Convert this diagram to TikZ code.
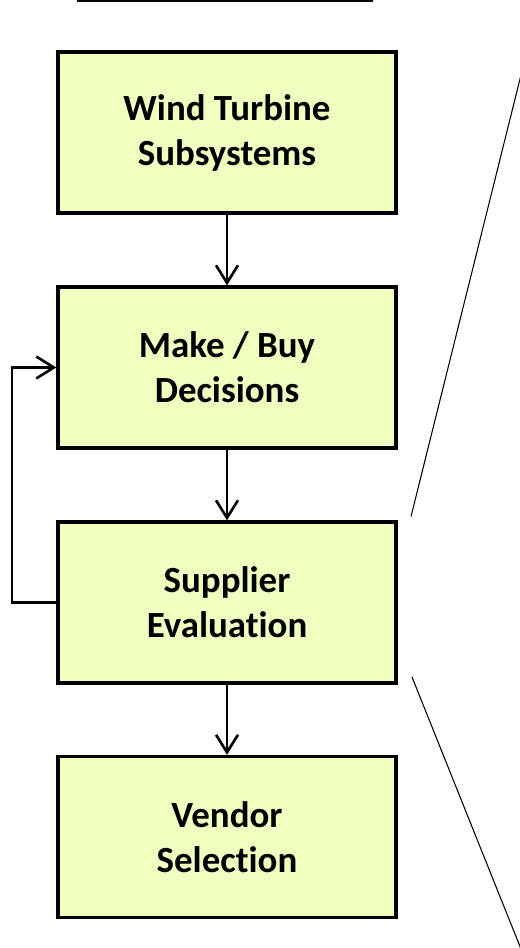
\documentclass[tikz,border=0pt]{standalone}
\usepackage{xcolor}
\usepackage{fontspec}
\usepackage{tikz}
\usetikzlibrary{arrows.meta}
\setmainfont[Ligatures=NoCommon]{Carlito}
\definecolor{boxfill}{RGB}{238,255,192}
\pgfdeclarelayer{nodelayer}
\pgfdeclarelayer{edgelayer}
\pgfsetlayers{edgelayer,nodelayer,main}
\tikzstyle{stage}=[fill=boxfill, draw=black, shape=rectangle, line width=1.9pt, minimum width=6.76cm, minimum height=3.22cm, align=center, font=\bfseries\fontsize{21}{25.6}\selectfont]
\tikzstyle{none}=[fill=none, draw=none, shape=circle, scale=0]
\tikzstyle{flow edge}=[draw=black, line width=1.5pt, -{Straight Barb[length=10pt,width=12.5pt,line width=1.5pt]}]
\tikzstyle{zoom edge}=[draw=black, line width=0.6pt]

\begin{document}
\begin{tikzpicture}
	\useasboundingbox (0, 0) rectangle (10.4, -18.96);
	\begin{pgfonlayer}{nodelayer}
		\node [style=stage] (0) at (4.54, -2.65) {Wind Turbine\\Subsystems};
		\node [style=stage] (1) at (4.54, -7.35) {Make / Buy\\Decisions};
		\node [style=stage] (2) at (4.54, -12.05) {Supplier\\Evaluation};
		\node [style=stage] (3) at (4.54, -16.74) {Vendor\\Selection};
		\node [style=none] (4) at (0.24, -7.35) {};
		\node [style=none] (5) at (0.24, -12.05) {};
		\coordinate (6) at (8.22, -10.33);
		\coordinate (7) at (10.45, -1.38);
		\coordinate (8) at (8.24, -13.54);
		\coordinate (9) at (10.42, -18.98);
	\end{pgfonlayer}
	\begin{pgfonlayer}{edgelayer}
		% title rule
		\draw [line width=1.14pt] (1.54, -0.02) -- (7.46, -0.02);
		\draw [style=flow edge] (0) to (1);
		\draw [style=flow edge] (1) to (2);
		\draw [style=flow edge] (2) to (3);
		\draw [style=flow edge] (2.west) -- (5.center) -- (4.center) -- (1.west);
		\draw [style=zoom edge] (6) to (7);
		\draw [style=zoom edge] (8) to (9);
	\end{pgfonlayer}
\end{tikzpicture}
\end{document}
